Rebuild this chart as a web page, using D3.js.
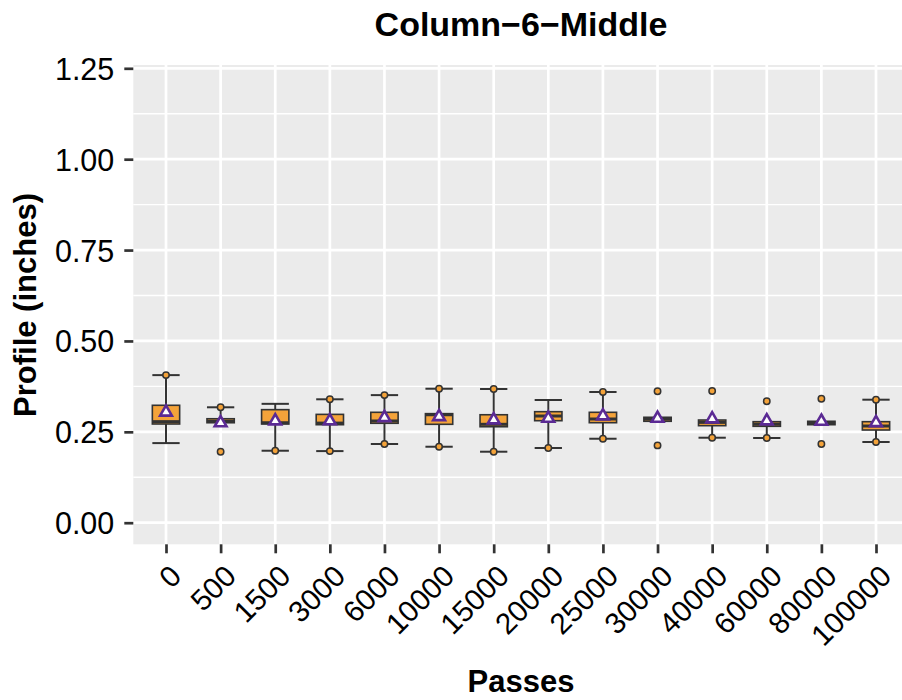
<!DOCTYPE html>
<html><head><meta charset="utf-8">
<script src="https://cdn.jsdelivr.net/npm/d3@7"></script>
<style>body{margin:0;background:#fff}svg{display:block}text{font-family:"Liberation Sans",Arial,sans-serif}</style>
</head><body>
<script>
const categories = ["0","500","1500","3000","6000","10000","15000","20000","25000","30000","40000","60000","80000","100000"];
const q1Values     = [0.2715,0.275,0.2715,0.2696,0.2735,0.2707,0.264,0.2806,0.2751,0.279,0.2669,0.2652,0.2696,0.255];
const medianValues = [0.278,0.279,0.275,0.274,0.2798,0.297,0.2707,0.2935,0.2853,0.285,0.276,0.271,0.274,0.266];
const q3Values     = [0.323,0.286,0.311,0.298,0.3037,0.300,0.297,0.3054,0.3037,0.290,0.2825,0.2779,0.279,0.2779];
const whiskerLow   = [0.219,0.275,0.198,0.197,0.2165,0.209,0.1953,0.2055,0.231,0.279,0.2338,0.233,0.2696,0.222];
const whiskerHigh  = [0.406,0.3175,0.327,0.3395,0.351,0.3686,0.3678,0.3376,0.3596,0.290,0.2825,0.2779,0.279,0.3384];
const meanValues   = [0.304,0.2746,0.2798,0.280,0.2889,0.2916,0.2825,0.287,0.2935,0.287,0.2853,0.2798,0.279,0.275];
const pointCats = ["0","500","500","1500","3000","3000","6000","6000","10000","10000","15000","15000","20000","25000","25000","30000","30000","40000","40000","60000","60000","80000","80000","100000","100000"];
const pointVals = [0.406,0.3175,0.195,0.198,0.3395,0.197,0.351,0.2165,0.3686,0.209,0.3678,0.1953,0.2055,0.3596,0.231,0.3617,0.2127,0.3623,0.2338,0.334,0.233,0.341,0.2165,0.3384,0.222];
const yTicks = [0,0.25,0.5,0.75,1.0,1.25];
const yMinor = [0.125,0.375,0.625,0.875,1.125];

const W=902,H=700;
const panel={left:133.3,right:909,top:65,bottom:544.3};
const svg=d3.select("body").append("svg").attr("width",W).attr("height",H);
const x=d3.scalePoint().domain(categories).range([166,876]);
const y=d3.scaleLinear().domain([-0.0594,1.2591]).range([panel.bottom,panel.top]);
const step=x.step();
const bw=step*0.5;

svg.append("rect").attr("x",panel.left).attr("y",panel.top).attr("width",panel.right-panel.left).attr("height",panel.bottom-panel.top).attr("fill","#EBEBEB");
const g=svg.append("g");
g.selectAll(".minor").data(yMinor).join("line").attr("x1",panel.left).attr("x2",panel.right).attr("y1",d=>y(d)).attr("y2",d=>y(d)).attr("stroke","#fff").attr("stroke-width",1.3);
g.selectAll(".major").data(yTicks).join("line").attr("x1",panel.left).attr("x2",panel.right).attr("y1",d=>y(d)).attr("y2",d=>y(d)).attr("stroke","#fff").attr("stroke-width",2.7);
g.selectAll(".vmajor").data(categories).join("line").attr("x1",d=>x(d)).attr("x2",d=>x(d)).attr("y1",panel.top).attr("y2",panel.bottom).attr("stroke","#fff").attr("stroke-width",2.7);

const dark="#333333";
categories.forEach((c,i)=>{
  const cx=x(c);
  const gg=svg.append("g");
  if(whiskerHigh[i]>q3Values[i]+1e-6){
    gg.append("line").attr("x1",cx).attr("x2",cx).attr("y1",y(q3Values[i])).attr("y2",y(whiskerHigh[i])).attr("stroke",dark).attr("stroke-width",2);
    gg.append("line").attr("x1",cx-bw/2).attr("x2",cx+bw/2).attr("y1",y(whiskerHigh[i])).attr("y2",y(whiskerHigh[i])).attr("stroke",dark).attr("stroke-width",2);
  }
  if(whiskerLow[i]<q1Values[i]-1e-6){
    gg.append("line").attr("x1",cx).attr("x2",cx).attr("y1",y(q1Values[i])).attr("y2",y(whiskerLow[i])).attr("stroke",dark).attr("stroke-width",2);
    gg.append("line").attr("x1",cx-bw/2).attr("x2",cx+bw/2).attr("y1",y(whiskerLow[i])).attr("y2",y(whiskerLow[i])).attr("stroke",dark).attr("stroke-width",2);
  }
  gg.append("rect").attr("x",cx-bw/2).attr("width",bw).attr("y",y(q3Values[i])).attr("height",y(q1Values[i])-y(q3Values[i]))
    .attr("fill","#F4A33A").attr("stroke",dark).attr("stroke-width",1.6);
  gg.append("line").attr("x1",cx-bw/2).attr("x2",cx+bw/2).attr("y1",y(medianValues[i])).attr("y2",y(medianValues[i])).attr("stroke",dark).attr("stroke-width",3);
});
svg.append("g").selectAll("circle").data(pointCats.map((c,i)=>({c,v:pointVals[i]}))).join("circle")
  .attr("cx",d=>x(d.c)).attr("cy",d=>y(d.v)).attr("r",3.2).attr("fill","#F4A33A").attr("stroke",dark).attr("stroke-width",1.5);
const tri=d3.symbol().type(d3.symbolTriangle).size(60);
svg.append("g").selectAll("path").data(categories).join("path")
  .attr("d",tri).attr("transform",(d,i)=>`translate(${x(d)},${y(meanValues[i])})`)
  .attr("fill","#fff").attr("stroke","#5B2A94").attr("stroke-width",2.6);

const ya=svg.append("g").attr("transform",`translate(${panel.left},0)`).call(d3.axisLeft(y).tickValues(yTicks).tickFormat(d3.format(".2f")).tickSize(9).tickPadding(10));
ya.select(".domain").remove();
ya.selectAll("line").attr("stroke",dark).attr("stroke-width",2.7);
ya.selectAll("text").attr("font-size",30.5).attr("fill","#000").attr("dy","0.36em");
const xa=svg.append("g").attr("transform",`translate(0,${panel.bottom})`).call(d3.axisBottom(x).tickSize(9).tickPadding(6));
xa.select(".domain").remove();
xa.selectAll("line").attr("stroke",dark).attr("stroke-width",2.7);
xa.selectAll("text").attr("font-size",29.5).attr("fill","#000").attr("text-anchor","end")
  .attr("transform","translate(1,18) rotate(-45)").attr("y",0).attr("dy","0.75em").attr("x",0);

svg.append("text").attr("x",521).attr("y",36).attr("text-anchor","middle").attr("font-size",34).attr("font-weight","bold").text("Column−6−Middle");
svg.append("text").attr("x",521).attr("y",692).attr("text-anchor","middle").attr("font-size",31).attr("font-weight","bold").text("Passes");
svg.append("text").attr("transform","translate(36,305) rotate(-90)").attr("text-anchor","middle").attr("font-size",31).attr("font-weight","bold").text("Profile (inches)");
</script>
</body></html>
